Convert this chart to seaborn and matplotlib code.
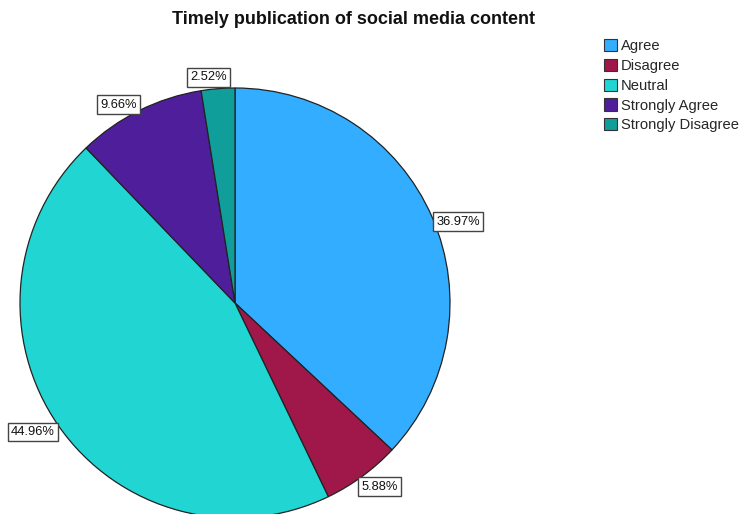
import numpy as np
import matplotlib
matplotlib.use("Agg")
import matplotlib.pyplot as plt
import seaborn as sns
from matplotlib.patches import Patch

categories = ["Agree", "Disagree", "Neutral", "Strongly Agree", "Strongly Disagree"]
percentages = [36.97, 5.88, 44.96, 9.66, 2.52]
colors = ["#33adff", "#a0174a", "#21d5d3", "#4f1e9b", "#0f9e9a"]
title = "Timely publication of social media content"

sns.set_theme(style="white")
plt.rcParams["font.family"] = ["Liberation Sans", "DejaVu Sans"]

W, H = 739, 514
fig = plt.figure(figsize=(W / 100, H / 100), dpi=100)

# pie centred at (235, 303) px with a 215 px radius
cx, cy, r = 235, 303, 215
ax = fig.add_axes([(cx - r) / W, (H - cy - r) / H, 2 * r / W, 2 * r / H])
wedges, _ = ax.pie(
    percentages,
    colors=sns.color_palette(colors),
    startangle=90,
    counterclock=False,
    radius=1.0,
    wedgeprops=dict(edgecolor="#222222", linewidth=0.9),
)
ax.set_xlim(-1, 1)
ax.set_ylim(-1, 1)
ax.set_aspect("equal")
ax.axis("off")

# value labels boxed at the rim of each slice
cum = np.cumsum([0] + percentages[:-1])
for start, pct in zip(cum, percentages):
    ang = np.deg2rad((start + pct / 2) * 3.6)
    x, y = np.sin(ang), np.cos(ang)
    if abs(x) < 0.25:
        ha = "center"
    else:
        ha = "left" if x > 0 else "right"
    if abs(y) < 0.5:
        va = "center"
    else:
        va = "bottom" if y > 0 else "top"
    tx, ty = x * 1.02, y
    if ha == "center":
        tx -= 0.04
        ty += 0.025
    if va == "center":
        ty -= 0.02
    if va == "top" and x > 0:
        tx -= 0.015
        ty -= 0.02
    ax.text(
        tx, ty, f"{pct:.2f}%",
        ha=ha, va=va, fontsize=9.3, color="#111111",
        bbox=dict(boxstyle="square,pad=0.25", facecolor="white",
                  edgecolor="#444444", linewidth=1.0),
        clip_on=False,
    )

fig.text(353 / W, 1 - 20 / H, title, ha="center", va="center",
         fontsize=13, fontweight="bold", color="#111111")

handles = [Patch(facecolor=c, edgecolor="#333333", linewidth=0.8) for c in colors]
fig.legend(
    handles, categories,
    loc="upper left", bbox_to_anchor=(604 / W, 1 - 39 / H),
    frameon=False, fontsize=10.6,
    handlelength=0.9, handleheight=0.9, handletextpad=0.25,
    labelspacing=0.38, borderpad=0, borderaxespad=0,
)

fig.savefig("out.png", dpi=100, facecolor="white")
